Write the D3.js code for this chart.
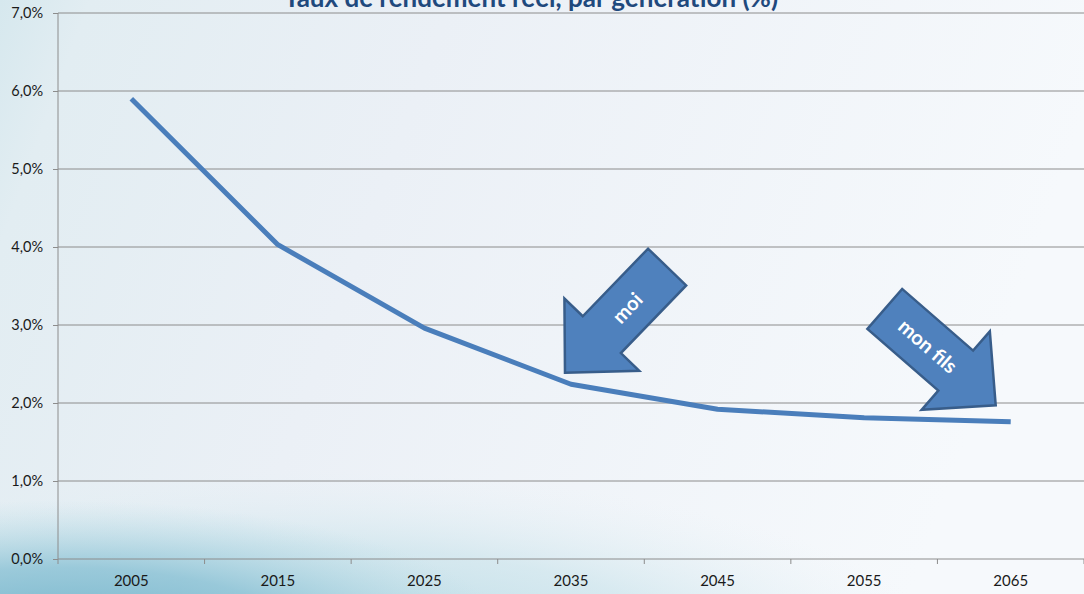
<!DOCTYPE html>
<html>
<head>
<meta charset="utf-8">
<script src="https://cdn.jsdelivr.net/npm/d3@7"></script>
<style>
  body { margin: 0; padding: 0; overflow: hidden; }
  svg { display: block; font-family: Lato, "Open Sans", sans-serif; }
</style>
</head>
<body>
<div id="chart"></div>
<script>
// chart data
var years = ["2005", "2015", "2025", "2035", "2045", "2055", "2065"];
var rendement = [5.9, 4.03, 2.96, 2.24, 1.92, 1.81, 1.76];
var yTicks = [0, 1, 2, 3, 4, 5, 6, 7];
var title = "Taux de rendement réel, par génération (%)";

// arrow annotations
var arrowLabels = ["moi", "mon fils"];
var arrowYears = ["2035", "2065"];
var arrowValues = [2.4, 1.97];

var svgWidth = 1084;
var svgHeight = 594;

var margin = { top: 13, right: 0, bottom: 35, left: 58 };
var chartWidth = svgWidth - margin.left - margin.right;
var chartHeight = svgHeight - margin.top - margin.bottom;

var svg = d3.select("#chart").append("svg")
  .attr("width", svgWidth)
  .attr("height", svgHeight);

// background
var defs = svg.append("defs");
var bg = defs.append("linearGradient").attr("id", "bg")
  .attr("x1", 0).attr("y1", 0).attr("x2", 1).attr("y2", 0.2);
bg.append("stop").attr("offset", "0%").attr("stop-color", "#d6e8ee");
bg.append("stop").attr("offset", "8%").attr("stop-color", "#e2edf2");
bg.append("stop").attr("offset", "40%").attr("stop-color", "#ebf0f6");
bg.append("stop").attr("offset", "100%").attr("stop-color", "#f6f9fc");

var glowWide = defs.append("radialGradient").attr("id", "glowWide");
glowWide.append("stop").attr("offset", "0%").attr("stop-color", "#a9d3df").attr("stop-opacity", 0.95);
glowWide.append("stop").attr("offset", "60%").attr("stop-color", "#c6e2ea").attr("stop-opacity", 0.6);
glowWide.append("stop").attr("offset", "100%").attr("stop-color", "#e6f1f5").attr("stop-opacity", 0);

var glowCorner = defs.append("radialGradient").attr("id", "glowCorner");
glowCorner.append("stop").attr("offset", "0%").attr("stop-color", "#6aaec6").attr("stop-opacity", 1);
glowCorner.append("stop").attr("offset", "55%").attr("stop-color", "#8cc2d5").attr("stop-opacity", 0.8);
glowCorner.append("stop").attr("offset", "100%").attr("stop-color", "#b8dbe5").attr("stop-opacity", 0);

svg.append("rect").attr("width", svgWidth).attr("height", svgHeight).attr("fill", "url(#bg)");
svg.append("ellipse").attr("cx", 300).attr("cy", 660).attr("rx", 650).attr("ry", 190).attr("fill", "url(#glowWide)");
svg.append("ellipse").attr("cx", 60).attr("cy", 650).attr("rx", 460).attr("ry", 150).attr("fill", "url(#glowCorner)");

var chartGroup = svg.append("g")
  .attr("transform", `translate(${margin.left}, ${margin.top})`);

// scales
var xBandScale = d3.scaleBand()
  .domain(years)
  .range([0, chartWidth])
  .padding(0);

var yLinearScale = d3.scaleLinear()
  .domain([0, 7])
  .range([chartHeight, 0]);

var xMid = d => xBandScale(d) + xBandScale.bandwidth() / 2;

// gridlines
chartGroup.append("g")
  .selectAll("line")
  .data(yTicks.slice(1))
  .enter()
  .append("line")
  .attr("x1", 0)
  .attr("x2", chartWidth)
  .attr("y1", d => yLinearScale(d))
  .attr("y2", d => yLinearScale(d))
  .attr("stroke", "#8c8c8c")
  .attr("stroke-width", 1);

// y axis
var leftAxis = d3.axisLeft(yLinearScale)
  .tickValues(yTicks)
  .tickSize(5)
  .tickPadding(10)
  .tickFormat(d => d.toFixed(1).replace(".", ",") + "%");

var yAxis = chartGroup.append("g").call(leftAxis)
  .attr("font-family", "Lato, sans-serif")
  .attr("font-size", 14.5);
yAxis.select(".domain").attr("stroke", "#8c8c8c").attr("d", `M0,0V${chartHeight}`);
yAxis.selectAll(".tick line").attr("stroke", "#8c8c8c");
yAxis.selectAll("text").attr("fill", "#1a1a1a");

// x axis
var bottomAxis = d3.axisBottom(xBandScale)
  .tickSize(0)
  .tickPadding(16);

var xAxis = chartGroup.append("g")
  .attr("transform", `translate(0, ${chartHeight})`)
  .call(bottomAxis)
  .attr("font-family", "Lato, sans-serif")
  .attr("font-size", 15);
xAxis.select(".domain").attr("stroke", "#8c8c8c").attr("d", `M0,0H${chartWidth}`);
xAxis.selectAll("text").attr("fill", "#1a1a1a");

// tick marks between categories
xAxis.selectAll(".sep")
  .data(years.concat(["end"]))
  .enter()
  .append("line")
  .attr("class", "sep")
  .attr("x1", (d, i) => i * xBandScale.bandwidth())
  .attr("x2", (d, i) => i * xBandScale.bandwidth())
  .attr("y1", 0)
  .attr("y2", 5)
  .attr("stroke", "#8c8c8c");

// line
var line = d3.line()
  .x((d, i) => xMid(years[i]))
  .y(d => yLinearScale(d));

chartGroup.append("path")
  .datum(rendement)
  .attr("d", line)
  .attr("fill", "none")
  .attr("stroke", "#4a7ebb")
  .attr("stroke-width", 5)
  .attr("stroke-linejoin", "round");

// block arrows (tip at origin, pointing +x)
var arrowShape = [[0, 0], [-53, -52], [-53, -26.5], [-147, -26.5], [-147, 26.5], [-53, 26.5], [-53, 52]];
var arrowAngles = [134, 41];
var arrowOffsets = [[-6, 1], [-15, 0]];

arrowLabels.forEach(function(label, i) {
  var tx = xMid(arrowYears[i]) + arrowOffsets[i][0];
  var ty = yLinearScale(arrowValues[i]) + arrowOffsets[i][1];
  var g = chartGroup.append("g")
    .attr("transform", `translate(${tx}, ${ty}) rotate(${arrowAngles[i]})`);
  g.append("path")
    .attr("d", "M" + arrowShape.join("L") + "Z")
    .attr("fill", "#4f81bd")
    .attr("stroke", "#385d8a")
    .attr("stroke-width", 2.5)
    .attr("stroke-linejoin", "miter");
  var flip = arrowAngles[i] > 90 ? 180 : 0;
  g.append("text")
    .attr("transform", `translate(-90, 0) rotate(${flip})`)
    .attr("text-anchor", "middle")
    .attr("dy", "0.35em")
    .attr("fill", "white")
    .style("font-size", "20px")
    .style("font-weight", "bold")
    .text(label);
});

// title (cut off at the top, like the original)
svg.append("text")
  .attr("x", 531)
  .attr("y", 7)
  .attr("text-anchor", "middle")
  .attr("fill", "#1f497d")
  .style("font-size", "26px")
  .style("font-weight", "bold")
  .text(title);
</script>
</body>
</html>
